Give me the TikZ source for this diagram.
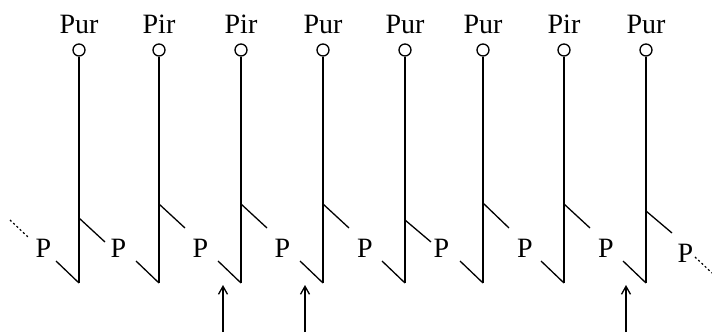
\documentclass[tikz,border=0pt]{standalone}
\usepackage{fontspec}
\newfontfamily\lblfont{Liberation Serif}
\usetikzlibrary{arrows.meta}
\begin{document}
\begin{tikzpicture}[x=1pt,y=-1pt,
  lbl/.style={font=\lblfont\fontsize{28}{28}\selectfont, inner sep=0pt, anchor=base},
  capc/.style={circle, draw, line width=1.3pt, minimum size=12pt, inner sep=0pt},
  strand/.style={line width=1.6pt},
  diag/.style={line width=1.3pt},
  dots/.style={line width=1.2pt, dash pattern=on 2pt off 2.5pt},
  uparrow/.style={line width=1.3pt, -{Straight Barb[length=8pt,width=9pt]}}]
\useasboundingbox (0,0) rectangle (712,332);
\foreach \i/\x/\t/\ua/\ub in {1/79/Pur/218/242, 2/159/Pir/204/228, 3/241/Pir/204/228, 4/323/Pur/204/228, 5/405/Pur/220/242, 6/483/Pur/203/228, 7/564/Pir/204/228, 8/646/Pur/211/233}{
  \node[lbl] (lab\i) at (\x,33) {\t};
  \node[capc] (c\i) at (\x,50) {};
  \coordinate (b\i) at (\x,283);
  \coordinate (u\i) at (\x,\ua);
  \coordinate (ue\i) at (\x+26,\ub);
  \coordinate (l\i) at (\x-23,261);
  \draw[strand] (c\i.south) -- (b\i);
  \draw[diag] (u\i) -- (ue\i);
  \draw[diag] (l\i) -- (b\i);
}
\foreach \i/\x/\yb in {1/43.5/257, 2/118.5/257, 3/200.5/257, 4/282.5/257, 5/365/257, 6/441.5/257, 7/525/257, 8/606/257, 9/685.5/262}{
  \node[lbl] (p\i) at (\x,\yb) {P};
}
\coordinate (dl1) at (10,220);
\coordinate (dl2) at (28,237);
\draw[dots] (dl1) -- (dl2);
\coordinate (dr1) at (695,257);
\coordinate (dr2) at (712,273);
\draw[dots] (dr1) -- (dr2);
\foreach \i/\x in {1/223, 2/305, 3/626}{
  \coordinate (as\i) at (\x,332);
  \coordinate (ae\i) at (\x,285);
  \draw[uparrow] (as\i) -- (ae\i);
}
\end{tikzpicture}
\end{document}
